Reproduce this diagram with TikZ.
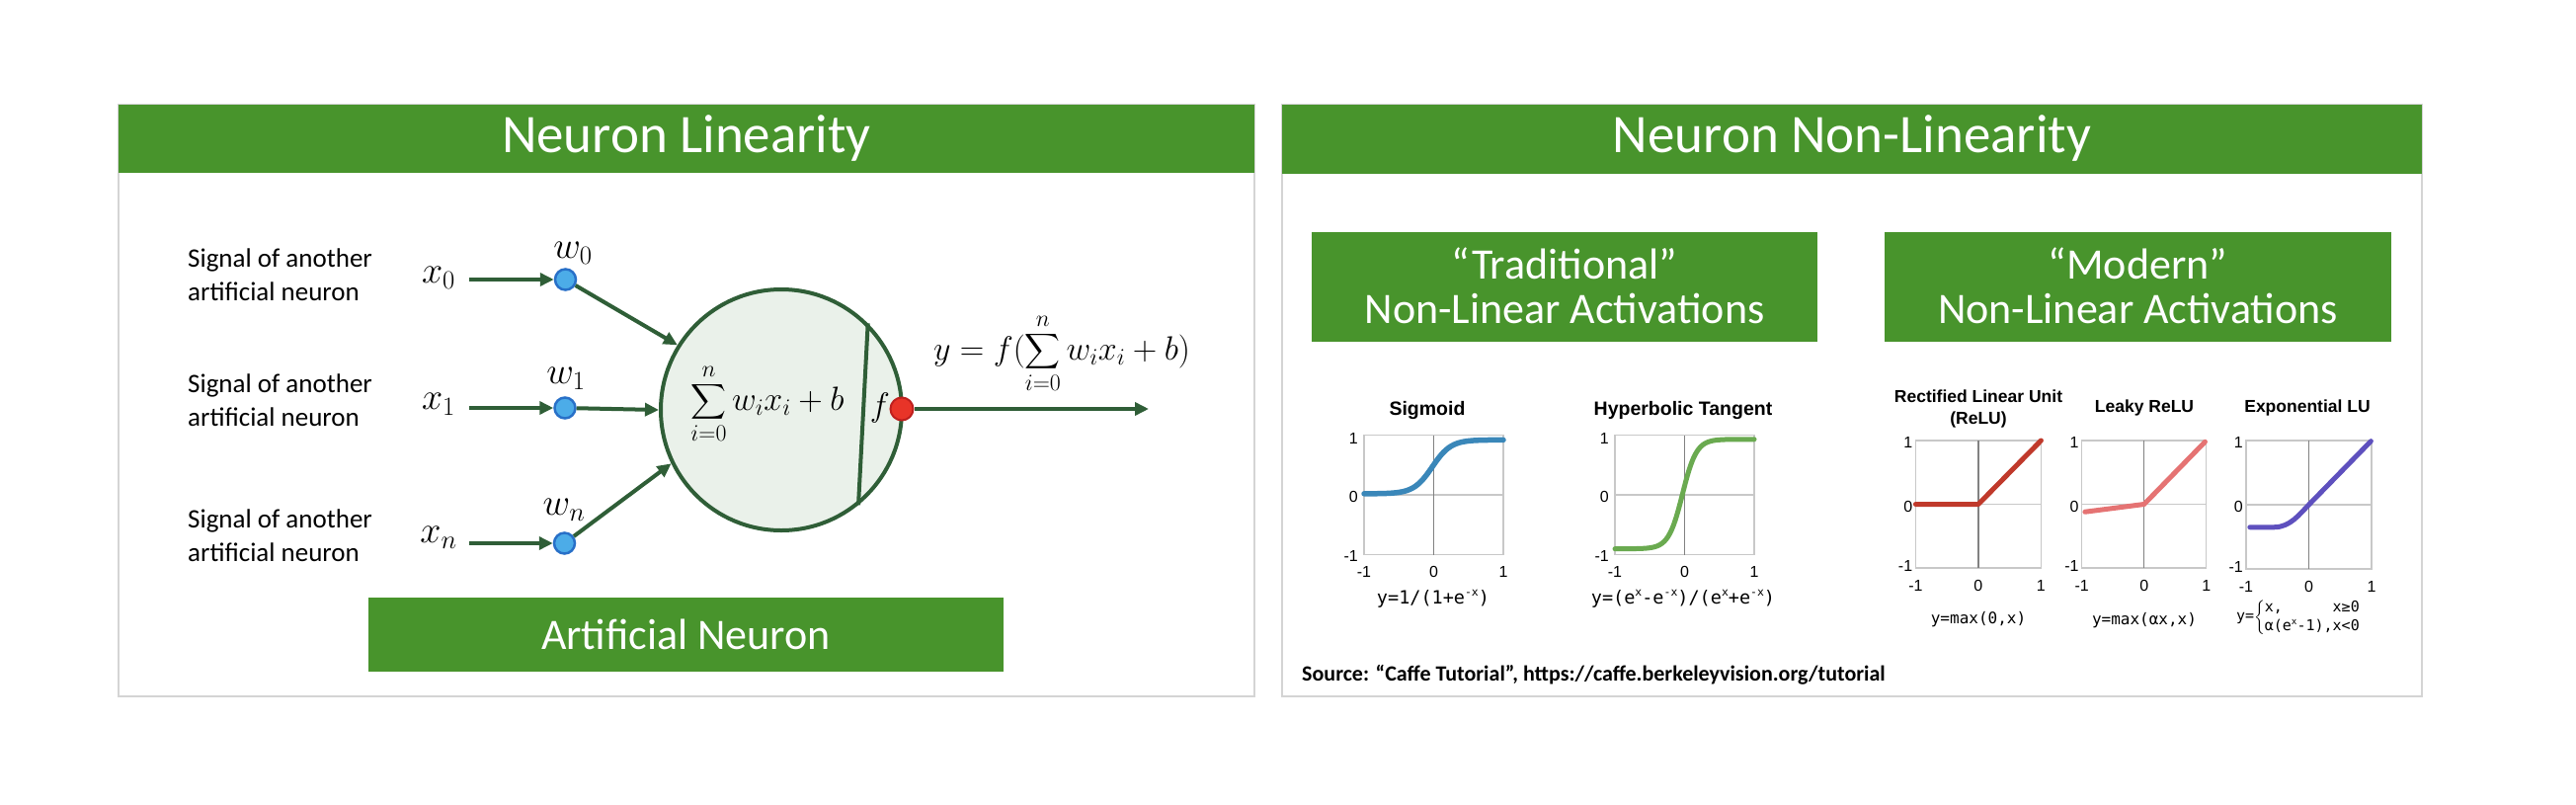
\RequirePackage{fix-cm}
\documentclass[tikz,border=0pt]{standalone}
\usepackage{amsmath}
\usepackage[no-math]{fontspec}
\usepackage{graphicx}
\setmainfont{Carlito}
\newfontfamily\arialf{Liberation Sans}
\newfontfamily\monof{DejaVu Sans Mono}
\usetikzlibrary{arrows.meta}
\newcommand\fsz[2]{\fontsize{#1pt}{#2pt}\selectfont}
\newcommand\msup[1]{\raisebox{0.42em}{\scalebox{0.62}{#1}}}
\definecolor{hdrgreen}{RGB}{72,148,44}
\definecolor{panelgray}{RGB}{212,212,212}
\definecolor{arrowgreen}{RGB}{47,94,55}
\definecolor{neufill}{RGB}{234,241,234}
\definecolor{dotblue}{RGB}{76,172,232}
\definecolor{dotblueb}{RGB}{40,112,200}
\definecolor{dotred}{RGB}{232,52,40}
\definecolor{dotredb}{RGB}{190,32,30}
\definecolor{gridgray}{RGB}{200,200,200}
\definecolor{axgray}{RGB}{130,130,130}
\definecolor{sigblue}{RGB}{58,135,185}
\definecolor{tanhgreen}{RGB}{106,170,80}
\definecolor{relured}{RGB}{192,57,43}
\definecolor{leakyred}{RGB}{229,115,115}
\definecolor{elupurple}{RGB}{94,80,190}
\tikzset{
 panelbox/.style={draw=panelgray, line width=2pt},
 hdrtext/.style={text=white, font=\fsz{55}{66}, inner sep=0pt},
 boxtext/.style={text=white, font=\fsz{44}{45}, align=center, inner sep=0pt},
 sigtext/.style={font=\fsz{27}{34}, align=left, anchor=west, inner sep=0pt},
 mlbl/.style={font=\fsz{34}{40}, inner sep=0pt},
 vlbl/.style={font=\fsz{38}{44}, inner sep=0pt},
 arr/.style={draw=arrowgreen, line width=4pt, -{Triangle[length=14pt,width=13pt]}},
 wdot/.style={circle, fill=dotblue, draw=dotblueb, line width=2.5pt, minimum size=21pt, inner sep=0pt},
 rdot/.style={circle, fill=dotred, draw=dotredb, line width=2pt, minimum size=23pt, inner sep=0pt},
 neuronc/.style={circle, draw=arrowgreen, fill=neufill, line width=4pt, minimum size=244pt, inner sep=0pt},
 gridbox/.style={draw=gridgray, line width=1.5pt},
 axv/.style={draw=axgray, line width=1.2pt},
 axh/.style={draw=gridgray, line width=1.5pt},
 curve/.style={line width=5pt, line cap=round, line join=round},
 tk/.style={font=\arialf\fsz{16}{18}, inner sep=0pt},
 ttl/.style={font=\arialf\bfseries\fsz{19.5}{23}, inner sep=0pt, align=center},
 ttlr/.style={font=\arialf\bfseries\fsz{17.5}{22}, inner sep=0pt, align=center},
 fml/.style={font=\monof\fsz{18.5}{20}, inner sep=0pt},
 fmlr/.style={font=\monof\fsz{16}{18}, inner sep=0pt},
}
\newcommand\plotframe{%
 \draw[gridbox] (-1,-1) rectangle (1,1);
 \draw[axh] (-1,0) -- (1,0);
 \draw[axv] (0,-1) -- (0,1);}
\newcommand\lticks[1]{%
 \node[tk,anchor=east,xshift=-6pt,yshift=-3pt] (#1ya) at (-1,1) {1};
 \node[tk,anchor=east,xshift=-6pt,yshift=-2pt] (#1yb) at (-1,0) {0};
 \node[tk,anchor=east,xshift=-6pt,yshift=-1pt] (#1yc) at (-1,-1) {-1};
 \node[tk,yshift=-17.6pt] (#1xa) at (-1,-1) {-1};
 \node[tk,yshift=-17.6pt] (#1xb) at (0,-1) {0};
 \node[tk,yshift=-17.6pt] (#1xc) at (1,-1) {1};}
\newcommand\rticks[1]{%
 \node[tk,anchor=east,xshift=-3pt,yshift=-2pt] (#1ya) at (-1,1) {1};
 \node[tk,anchor=east,xshift=-3pt,yshift=-2pt] (#1yb) at (-1,0) {0};
 \node[tk,anchor=east,xshift=-3pt,yshift=2pt] (#1yc) at (-1,-1) {-1};
 \node[tk,yshift=-18pt] (#1xa) at (-1,-1) {-1};
 \node[tk,yshift=-18pt] (#1xb) at (0,-1) {0};
 \node[tk,yshift=-18pt] (#1xc) at (1,-1) {1};}
\begin{document}
\begin{tikzpicture}[x=1pt,y=-1pt]
\useasboundingbox (0,0) rectangle (2608,814);
\fill[white] (0,0) rectangle (2608,814);
% ---------- left panel ----------
\draw[panelbox] (120,106) rectangle (1270,705);
\fill[hdrgreen] (120,106) rectangle (1270,175);
\node[hdrtext] (h1) at (695,140.5) {Neuron Linearity};
\node[sigtext] (s0) at (190,278) {Signal of another\\artificial neuron};
\node[sigtext] (s1) at (190,405) {Signal of another\\artificial neuron};
\node[sigtext] (sn) at (190,542) {Signal of another\\artificial neuron};
\node[vlbl] (x0) at (444,281) {$x_0$};
\node[vlbl] (x1) at (444,409) {$x_1$};
\node[vlbl] (xn) at (444,544) {$x_n$};
\node[wdot] (d0) at (572.5,283) {};
\node[wdot] (d1) at (572,413) {};
\node[wdot] (dn) at (571.5,550) {};
\node[vlbl] (w0) at (580,256) {$w_0$};
\node[vlbl] (w1) at (573,383) {$w_1$};
\node[vlbl] (wn) at (571,516) {$w_n$};
\draw[arr] (475,283) -- (d0);
\draw[arr] (475,413) -- (d1);
\draw[arr] (475,550) -- (dn);
\node[neuronc] (nc) at (791,415) {};
\draw[arr] (d0) -- (nc.148);
\draw[arr] (d1) -- (nc.west);
\draw[arr] (dn) -- (nc.206);
\draw[draw=arrowgreen, line width=4pt] (nc.45) -- (nc.-51);
\node[mlbl] (sumn) at (777,409) {$\displaystyle\sum_{i=0}^{n} w_i x_i + b$};
\node[mlbl] (fl) at (891,413) {$f$};
\node[rdot] (fd) at (913,414) {};
\coordinate (yout) at (1163,414);
\draw[arr] (fd) -- (yout);
\node[mlbl] (ylab) at (1075,358) {$\displaystyle y = f(\sum_{i=0}^{n} w_i x_i + b)$};
\fill[hdrgreen] (373,605) rectangle (1016,680);
\node[boxtext] (an) at (694.5,642.5) {Artificial Neuron};
% ---------- right panel ----------
\draw[panelbox] (1298,106) rectangle (2452,705);
\fill[hdrgreen] (1298,106) rectangle (2452,175.5);
\node[hdrtext] (h2) at (1875,140.5) {Neuron Non-Linearity};
\fill[hdrgreen] (1328,235) rectangle (1840,345.5);
\node[boxtext] (trad) at (1584,289) {“Traditional”\\Non-Linear Activations};
\fill[hdrgreen] (1908,235) rectangle (2421,345.5);
\node[boxtext] (mod) at (2164.5,289) {“Modern”\\Non-Linear Activations};
% sigmoid
\node[ttl] (tsig) at (1445,415) {Sigmoid};
\begin{scope}[shift={(1451.5,501.1)},x=70.5pt,y=60.6pt]
\plotframe
\draw[curve, sigblue, line width=5.5pt] plot[domain=-1:1,samples=80,smooth] (\x,{0.02+0.9/(1+exp(-7.5*(\x+0.02)))});
\lticks{sg}
\end{scope}
\node[fml] (fsig) at (1451,606) {y=1/(1+e\msup{-x})};
% tanh
\node[ttl] (ttanh) at (1704,415) {Hyperbolic Tangent};
\begin{scope}[shift={(1705.5,501.1)},x=70.5pt,y=60.6pt]
\plotframe
\draw[curve, tanhgreen] plot[domain=-1:1,samples=80,smooth] (\x,{0.015+0.915*tanh(5*(\x+0.03))});
\lticks{th}
\end{scope}
\node[fml] (ftanh) at (1704,606) {y=(e\msup{x}-e\msup{-x})/(e\msup{x}+e\msup{-x})};
% relu
\node[ttlr] (trelu) at (2003,414) {Rectified Linear Unit\\(ReLU)};
\begin{scope}[shift={(2002.9,510.5)},x=63.5pt,y=64.5pt]
\plotframe
\draw[curve, relured] (-1,0) -- (0,0) -- (1,1);
\rticks{rl}
\end{scope}
\node[fmlr] (frelu) at (2003,627) {y=max(0,x)};
% leaky relu
\node[ttlr] (tleaky) at (2171,413) {Leaky ReLU};
\begin{scope}[shift={(2170.7,510.5)},x=63pt,y=64.5pt]
\plotframe
\draw[curve, leakyred] (-0.95,-0.12) -- (0,0) -- (0.98,0.98);
\rticks{lk}
\end{scope}
\node[fmlr] (fleaky) at (2171,628) {y=max(αx,x)};
% elu
\node[ttlr] (telu) at (2336,413) {Exponential LU};
\begin{scope}[shift={(2337.5,511)},x=63.5pt,y=65pt]
\plotframe
\draw[curve, elupurple] (-0.94,-0.35) -- (-0.55,-0.35) .. controls (-0.3,-0.35) and (-0.15,-0.15) .. (0,0) -- (0.99,0.99);
\rticks{el}
\end{scope}
\node[font=\monof\fsz{15}{19}, inner sep=0pt] (felu) at (2327,625) {y=$\left\{\begin{tabular}{@{}l@{}r@{}}x,&x≥0\\α(e\msup{x}-1),&x<0\end{tabular}\right.$};
\node[font=\bfseries\fsz{22}{26}, anchor=west, inner sep=0pt] (src) at (1318,683) {Source: “Caffe Tutorial”, https://caffe.berkeleyvision.org/tutorial};
\end{tikzpicture}
\end{document}
